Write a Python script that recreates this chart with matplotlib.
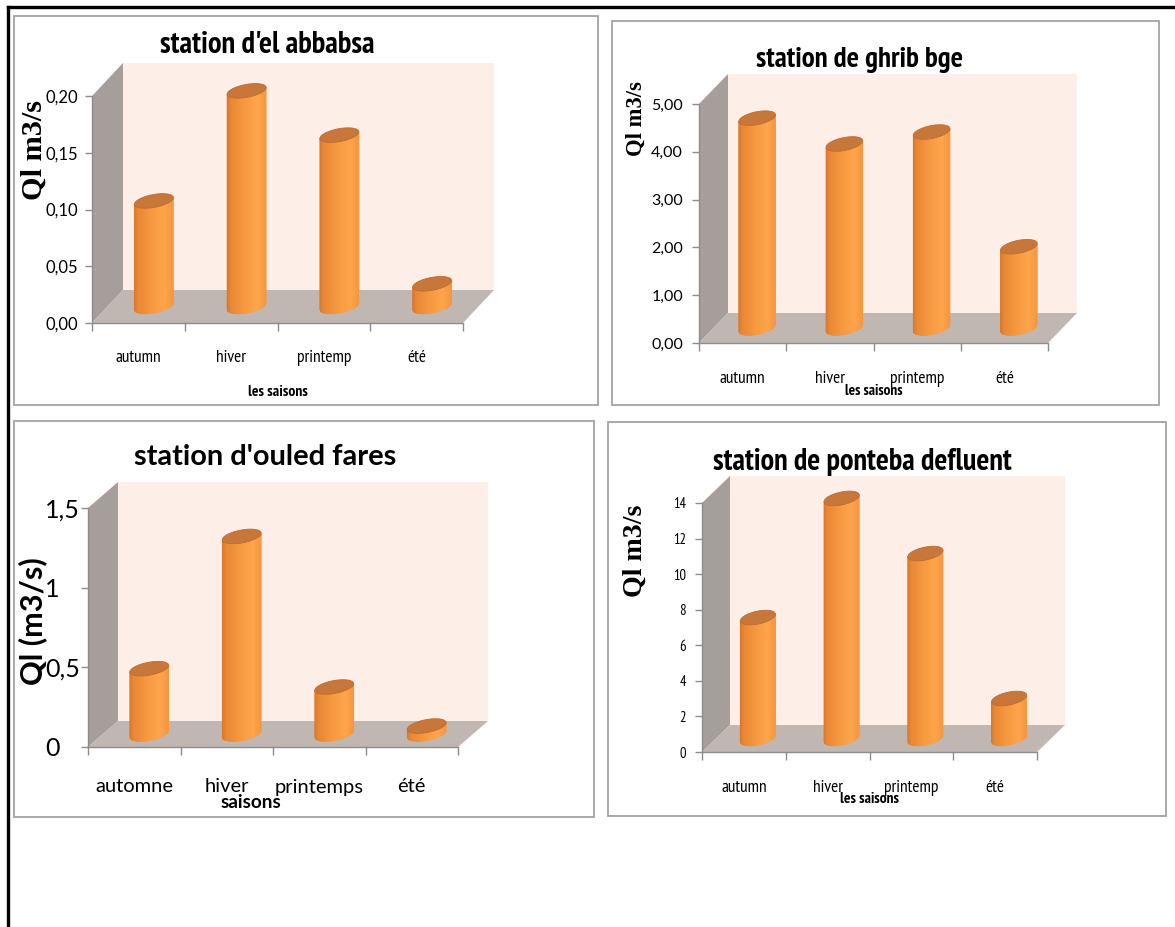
import matplotlib
matplotlib.use('Agg')
import matplotlib.pyplot as plt
import numpy as np
from matplotlib.patches import Polygon, Rectangle
from matplotlib.lines import Line2D
from matplotlib.colors import to_rgb
from matplotlib.transforms import ScaledTranslation
from matplotlib import font_manager

W, H, DPI = 1175, 927, 100

_names = {f.name for f in font_manager.fontManager.ttflist}
SANS = 'Lato'
NARROW = 'PT Sans Narrow' if 'PT Sans Narrow' in _names else 'Lato'
SERIF = 'Liberation Serif'
plt.rcParams['font.family'] = [SANS, 'DejaVu Sans']

# ---------------- data ----------------
titles = ["station d'el abbabsa", "station de ghrib bge",
          "station d'ouled fares", "station de ponteba defluent"]
seasons_a = ['autumn', 'hiver', 'printemp', 'été']
seasons_b = ['automne', 'hiver', 'printemps', 'été']
ql_abbabsa = [0.093, 0.190, 0.151, 0.020]
ql_ghrib = [4.39, 3.85, 4.10, 1.70]
ql_ouled_fares = [0.41, 1.24, 0.295, 0.05]
ql_ponteba = [6.8, 13.5, 10.4, 2.25]
ylabels = ['Ql m3/s', 'Ql m3/s', 'Ql (m3/s)', 'Ql m3/s']
xlabels = ['les saisons', 'les saisons', 'saisons', 'les saisons']
yticks_abbabsa = [0, 0.05, 0.10, 0.15, 0.20]
yticklabels_abbabsa = ['0,00', '0,05', '0,10', '0,15', '0,20']
yticks_ghrib = [0, 1, 2, 3, 4, 5]
yticklabels_ghrib = ['0,00', '1,00', '2,00', '3,00', '4,00', '5,00']
yticks_ouled = [0, 0.5, 1, 1.5]
yticklabels_ouled = ['0', '0,5', '1', '1,5']
yticks_ponteba = [0, 2, 4, 6, 8, 10, 12, 14]
yticklabels_ponteba = ['0', '2', '4', '6', '8', '10', '12', '14']

# ---------------- styles ----------------
BACK = '#FDEFE8'
SIDE = '#A59E9A'
FLOOR = '#C0B7B3'
CAP = '#C8773A'
AXGRAY = '#8C8C8C'
BODY_STOPS = [(0.0, '#D7752C'), (0.1, '#E98735'), (0.45, '#F6993F'),
              (0.8, '#FFA54C'), (1.0, '#F39741')]

panels = [
    dict(values=ql_abbabsa, cats=seasons_a, yt=yticks_abbabsa, ytl=yticklabels_abbabsa,
         box=(14, 16, 598, 405), ax=(92, 463, 323, 96), shift=(31, -33),
         title=(267, 53, 215), ylab=(34, 150, 100, 'serif'), xlab=(278, 396, 60),
         ytfont=SANS, ytsize=12, ytpad=5, ytlen=5,
         xtfont=NARROW, xtsize=12.5, xtbase=40, intshift=0, tfont=NARROW),
    dict(values=ql_ghrib, cats=seasons_a, yt=yticks_ghrib, ytl=yticklabels_ghrib,
         box=(612, 21, 1159, 405), ax=(699, 1048, 343, 104), shift=(29, -30),
         title=(860, 67, 207), ylab=(636, 119, 75, 'serif'), xlab=(874, 395, 58),
         ytfont=SANS, ytsize=11.5, ytpad=6.5, ytlen=5,
         xtfont=NARROW, xtsize=12.5, xtbase=40, intshift=0, tfont=NARROW),
    dict(values=ql_ouled_fares, cats=seasons_b, yt=yticks_ouled, ytl=yticklabels_ouled,
         box=(14, 421, 594, 817), ax=(88, 458, 747, 508), shift=(30, -26),
         title=(265, 465, 263), ylab=(33, 621, 128, 'sans'), xlab=(251, 808, 61),
         ytfont=SANS, ytsize=18, ytpad=1, ytlen=5,
         xtfont=SANS, xtsize=14.5, xtbase=46, intshift=20, tfont=SANS),
    dict(values=ql_ponteba, cats=seasons_a, yt=yticks_ponteba, ytl=yticklabels_ponteba,
         box=(608, 422, 1166, 816), ax=(702, 1037, 752, 503), shift=(28, -27),
         title=(862, 470, 300), ylab=(635, 551, 92, 'serif'), xlab=(870, 803, 59),
         ytfont=NARROW, ytsize=10.5, ytpad=6.5, ytlen=5,
         xtfont=NARROW, xtsize=12.5, xtbase=41, intshift=0, tfont=NARROW),
]

CYL_FRAC = 0.42   # cylinder diameter as fraction of category width
EH_PX = 6.5       # ellipse half height in px
TILT_PX = 3.3     # ellipse tilt (px rise at right edge)
NSTRIP = 48


def fx(px):
    return px / W


def fy(py):
    return 1 - py / H


def body_color(u):
    us = [s[0] for s in BODY_STOPS]
    cs = np.array([to_rgb(s[1]) for s in BODY_STOPS])
    return tuple(np.interp(u, us, cs[:, k]) for k in range(3))


fig = plt.figure(figsize=(W / DPI, H / DPI), dpi=DPI)
fig.patch.set_facecolor('white')
renderer = fig.canvas.get_renderer()


def fit(t, target, dim='w'):
    bb = t.get_window_extent(renderer)
    cur = bb.width if dim == 'w' else bb.height
    if cur > 0:
        t.set_fontsize(t.get_fontsize() * target / cur)


# outer black frame (top and left)
fig.add_artist(Line2D([fx(8), 1], [fy(7), fy(7)], color='black', lw=2.4,
                      transform=fig.transFigure))
fig.add_artist(Line2D([fx(8), fx(8)], [fy(7), 0], color='black', lw=2.4,
                      transform=fig.transFigure))

for idx, p in enumerate(panels):
    bx0, by0, bx1, by1 = p['box']
    fig.add_artist(Rectangle((fx(bx0), fy(by1)), fx(bx1) - fx(bx0), fy(by0) - fy(by1),
                             transform=fig.transFigure, fill=False,
                             edgecolor='#A3A3A3', lw=1.3))
    x0, x1, y0, ytop = p['ax']
    ymax = p['yt'][-1]
    ax = fig.add_axes([fx(x0), fy(y0), (x1 - x0) / W, (y0 - ytop) / H])
    ax.set_xlim(0, 4)
    ax.set_ylim(0, ymax)
    ax.patch.set_visible(False)
    for s in ['top', 'right']:
        ax.spines[s].set_visible(False)
    for s in ['left', 'bottom']:
        ax.spines[s].set_color(AXGRAY)
        ax.spines[s].set_linewidth(1.0)

    pxu = (x1 - x0) / 4.0          # px per category
    pyu = (y0 - ytop) / ymax       # px per value unit
    dxd = p['shift'][0] / pxu
    dyd = -p['shift'][1] / pyu

    # walls
    ax.add_patch(Rectangle((dxd, dyd), 4, ymax, facecolor=BACK, edgecolor='none',
                           clip_on=False, zorder=0.5))
    ax.add_patch(Polygon([(0, 0), (dxd, dyd), (dxd, dyd + ymax), (0, ymax)],
                         closed=True, facecolor=SIDE, edgecolor='none',
                         clip_on=False, zorder=0.6))
    ax.add_patch(Polygon([(0, 0), (4, 0), (4 + dxd, dyd), (dxd, dyd)],
                         closed=True, facecolor=FLOOR, edgecolor='none',
                         clip_on=False, zorder=0.6))

    # cylinders
    r = CYL_FRAC / 2
    eh = EH_PX / pyu
    tl = TILT_PX / pyu

    def ylow(base, u):
        return base - eh * np.sqrt(max(0.0, 1 - u * u)) + tl * u

    for i, v in enumerate(p['values']):
        cx = i + 0.5 + dxd / 2
        yb = dyd / 2
        yt = v + dyd / 2
        us = np.linspace(-1, 1, NSTRIP + 1)
        for k in range(NSTRIP):
            u0, u1 = us[k], us[k + 1]
            poly = [(cx + r * u0, ylow(yb, u0)), (cx + r * u1, ylow(yb, u1)),
                    (cx + r * u1, ylow(yt, u1)), (cx + r * u0, ylow(yt, u0))]
            col = body_color((u0 + u1) / 4 + 0.5)
            ax.add_patch(Polygon(poly, closed=True, facecolor=col, edgecolor=col,
                                 lw=0.6, clip_on=False, zorder=3))
        th = np.linspace(0, 2 * np.pi, 120)
        cap = np.column_stack([cx + r * np.cos(th), yt + eh * np.sin(th) + tl * np.cos(th)])
        ax.add_patch(Polygon(cap, closed=True, facecolor=CAP, edgecolor='#BD6C30',
                             lw=0.6, clip_on=False, zorder=3.1))

    # ticks
    ax.set_xticks([0, 1, 2, 3, 4])
    ax.set_xticklabels([])
    ax.set_xticks([0.5, 1.5, 2.5, 3.5], minor=True)
    ax.set_xticklabels(p['cats'], minor=True, family=[p['xtfont'], 'DejaVu Sans'])
    xt_px = p['xtsize'] * DPI / 72
    pad_pt = (p['xtbase'] - 0.72 * xt_px) * 72 / DPI
    ax.tick_params(axis='x', which='major', direction='out', length=6, color=AXGRAY, width=1)
    ax.tick_params(axis='x', which='minor', length=0, pad=pad_pt, labelsize=p['xtsize'],
                   labelcolor='black')
    ax.set_yticks(p['yt'])
    ax.set_yticklabels(p['ytl'], family=[p['ytfont'], 'DejaVu Sans'])
    ax.tick_params(axis='y', direction='out', length=p['ytlen'], color=AXGRAY, width=1,
                   pad=p['ytpad'], labelsize=p['ytsize'], labelcolor='black')
    if p['intshift']:
        for lbl, txt in zip(ax.get_yticklabels(), p['ytl']):
            if ',' not in txt:
                lbl.set_transform(lbl.get_transform() +
                                  ScaledTranslation(-p['intshift'] / DPI, 0,
                                                    fig.dpi_scale_trans))

    # title
    tx, tyb, tw = p['title']
    t = fig.text(fx(tx), fy(tyb), titles[idx], ha='center', va='baseline',
                 fontsize=20, fontweight='bold', color='black',
                 family=[p['tfont'], 'DejaVu Sans'])
    fit(t, tw, 'w')

    # y label
    lx, ly, ll, kind = p['ylab']
    if kind == 'serif':
        yl = fig.text(fx(lx), fy(ly), ylabels[idx], rotation=90,
                      ha='center', va='center', fontsize=18, fontweight='bold',
                      family=[SERIF, 'DejaVu Serif'], color='black')
    else:
        yl = fig.text(fx(lx), fy(ly), ylabels[idx], rotation=90,
                      ha='center', va='center', fontsize=18, fontweight='bold',
                      color='black', zorder=5)
    fit(yl, ll, 'h')

    # x label
    xx, xyb, xw = p['xlab']
    xl = fig.text(fx(xx), fy(xyb), xlabels[idx], ha='center', va='baseline',
                  fontsize=10, fontweight='bold', color='black',
                  family=[p['tfont'], 'DejaVu Sans'])
    fit(xl, xw, 'w')

fig.savefig('out.png', dpi=DPI, facecolor='white')
